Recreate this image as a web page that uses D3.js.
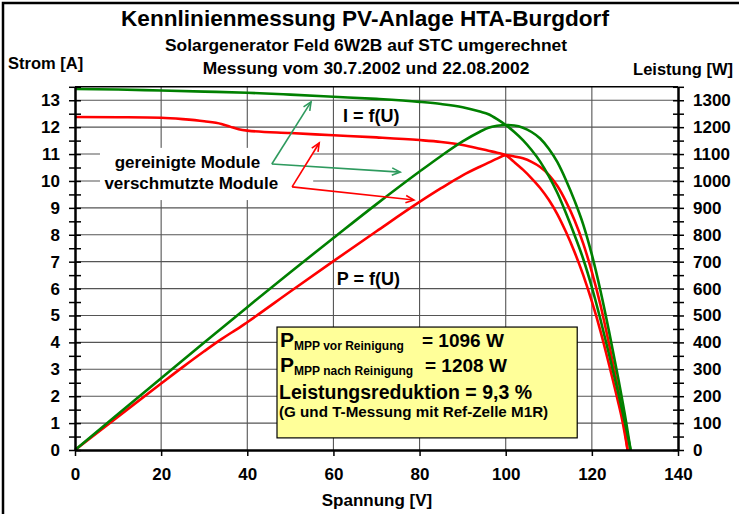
<!DOCTYPE html>
<html><head><meta charset="utf-8">
<script src="https://cdn.jsdelivr.net/npm/d3@7"></script>
<style>
body{margin:0;background:#fff}
svg{display:block}
text{font-family:"Liberation Sans",Arial,sans-serif;font-weight:bold;fill:#000}
</style></head>
<body><svg id="c" width="739" height="514"></svg>
<script>
// ---- data ----
const voltageClean = [0,10,20,30,40,50,60,70,80,85,90,94,96,98,100,102,104,106,108,110,112,114,116,118,120,122,124,126,128,129];
const currentClean = [13.42,13.40,13.36,13.32,13.28,13.21,13.13,13.05,12.94,12.86,12.74,12.58,12.48,12.30,12.08,11.82,11.52,11.15,10.72,10.18,9.55,8.80,7.98,7.10,6.05,4.85,3.55,2.20,0.78,0];
const powerClean = [0,134,267,400,531,661,788,914,1035,1093,1147,1183,1198,1205,1208,1206,1198,1182,1158,1120,1070,1003,926,838,726,592,440,277,100,0];

const voltageDirty = [0,10,20,25,30,34,36,38,40,50,60,70,80,85,90,94,96,98,100,102,104,106,108,110,112,114,116,118,120,122,124,126,127,128.3];
const currentDirty = [12.38,12.37,12.35,12.30,12.22,12.12,12.02,11.92,11.87,11.78,11.70,11.62,11.52,11.45,11.34,11.20,11.125,11.05,10.96,10.70,10.42,10.10,9.74,9.30,8.76,8.10,7.35,6.50,5.52,4.42,3.17,1.85,1.15,0];
const powerDirty = [0,124,247,308,367,412,433,453,475,589,702,813,922,973,1021,1053,1068,1083,1096,1091,1084,1071,1052,1023,981,923,853,767,662,539,393,233,146,0];

const xTickValues = [0,20,40,60,80,100,120,140];
const yLeftTickValues = [0,1,2,3,4,5,6,7,8,9,10,11,12,13];
const yRightTickValues = [0,100,200,300,400,500,600,700,800,900,1000,1100,1200,1300];

const titleText = "Kennlinienmessung PV-Anlage HTA-Burgdorf";
const subtitle1 = "Solargenerator Feld 6W2B auf STC umgerechnet";
const subtitle2 = "Messung vom 30.7.2002 und 22.08.2002";
const leftTitle = "Strom [A]";
const rightTitle = "Leistung [W]";
const xTitle = "Spannung [V]";

const colorClean = "#008000";
const colorDirty = "#ff0000";
const colorCleanArrow = "#2e9a5e";

// ---- layout ----
const svg = d3.select("#c");
const X0 = 75, X1 = 678, Y0 = 450, YT = 86.8;
const x = d3.scaleLinear().domain([0,140]).range([X0,X1]);
const yA = d3.scaleLinear().domain([0,13.5]).range([Y0,YT]);
const yW = d3.scaleLinear().domain([0,1350]).range([Y0,YT]);

svg.append("rect").attr("width",739).attr("height",514).attr("fill","#fff");
// outer frame (left & top visible)
svg.append("path").attr("d","M3,514 V3 H739").attr("fill","none").attr("stroke","#000").attr("stroke-width",2.5);

// gridlines
const grid = svg.append("g").attr("stroke","#555").attr("stroke-width",1.1);
grid.selectAll(".h").data(yLeftTickValues.filter(d=>d>0)).join("line")
  .attr("x1",X0).attr("x2",X1).attr("y1",d=>yA(d)).attr("y2",d=>yA(d));
grid.selectAll(".v").data(xTickValues.filter(d=>d>0&&d<140)).join("line")
  .attr("y1",YT).attr("y2",Y0).attr("x1",d=>x(d)).attr("x2",d=>x(d));
// plot top border
svg.append("line").attr("x1",X0).attr("x2",X1).attr("y1",YT).attr("y2",YT).attr("stroke","#000").attr("stroke-width",1.5);

// white label box
svg.append("rect").attr("x",x(5.8)).attr("y",yA(11.23)).attr("width",x(55.3)-x(5.8)).attr("height",yA(9.29)-yA(11.23)).attr("fill","#fff");
svg.append("text").attr("x",x(26.1)).attr("y",yA(10.5)).attr("text-anchor","middle").attr("font-size",17).text("gereinigte Module");
svg.append("text").attr("x",x(27.0)).attr("y",yA(9.7)).attr("text-anchor","middle").attr("font-size",17).text("verschmutzte Module");

// yellow info box
const bx0 = x(46.9), bx1 = x(116.6), by0 = yA(4.57), by1 = yA(0.45);
svg.append("rect").attr("x",bx0).attr("y",by0).attr("width",bx1-bx0).attr("height",by1-by0)
  .attr("fill","#ffff99").attr("stroke","#000").attr("stroke-width",1.2);
const t1 = svg.append("text").attr("x",bx0+3).attr("y",by0+20);
t1.append("tspan").attr("font-size",21).text("P");
t1.append("tspan").attr("font-size",12).attr("dy",3).text("MPP vor Reinigung");
svg.append("text").attr("x",422).attr("y",by0+20).attr("font-size",19).text("= 1096 W");
const t2 = svg.append("text").attr("x",bx0+3).attr("y",by0+45);
t2.append("tspan").attr("font-size",21).text("P");
t2.append("tspan").attr("font-size",12).attr("dy",3).text("MPP nach Reinigung");
svg.append("text").attr("x",425).attr("y",by0+45).attr("font-size",19).text("= 1208 W");
svg.append("text").attr("x",bx0+2).attr("y",by0+72).attr("font-size",19.5).text("Leistungsreduktion = 9,3 %");
svg.append("text").attr("x",bx0+2).attr("y",by0+90).attr("font-size",15.2).text("(G und T-Messung mit Ref-Zelle M1R)");

// curve labels
svg.append("text").attr("x",x(62.2)).attr("y",yA(12.19)).attr("font-size",18).text("I = f(U)");
svg.append("text").attr("x",x(60.8)).attr("y",yA(6.13)).attr("font-size",18).text("P = f(U)");

// curves
const lineA = (vs,is)=> d3.line().x((d,i)=>x(vs[i])).y((d,i)=>yA(is[i])).curve(d3.curveMonotoneX)(vs);
const lineW = (vs,ps)=> d3.line().x((d,i)=>x(vs[i])).y((d,i)=>yW(ps[i])).curve(d3.curveMonotoneX)(vs);
const curves = [
  [lineW(voltageDirty,powerDirty),colorDirty],
  [lineA(voltageDirty,currentDirty),colorDirty],
  [lineW(voltageClean,powerClean),colorClean],
  [lineA(voltageClean,currentClean),colorClean]
];
svg.append("g").selectAll("path").data(curves).join("path")
  .attr("d",d=>d[0]).attr("stroke",d=>d[1]).attr("fill","none").attr("stroke-width",2.6).attr("stroke-linejoin","round");

// arrows
function arrow(from,to,color){
  const x1=x(from[0]),y1=yA(from[1]),x2=x(to[0]),y2=yA(to[1]);
  svg.append("line").attr("x1",x1).attr("y1",y1).attr("x2",x2).attr("y2",y2).attr("stroke",color).attr("stroke-width",1.6);
  const a=Math.atan2(y2-y1,x2-x1), L=9, w=0.42;
  const p=`M${x2-L*Math.cos(a-w)},${y2-L*Math.sin(a-w)} L${x2},${y2} L${x2-L*Math.cos(a+w)},${y2-L*Math.sin(a+w)}`;
  svg.append("path").attr("d",p).attr("fill","none").attr("stroke",color).attr("stroke-width",1.6);
}
arrow([45.7,10.63],[54.8,12.94],colorCleanArrow);
arrow([45.7,10.63],[75.5,10.33],colorCleanArrow);
arrow([50.4,9.78],[56.7,11.41],colorDirty);
arrow([50.4,9.78],[78.7,9.29],colorDirty);

// axes
function styleAxis(g){ g.selectAll("path").attr("stroke","#000").attr("stroke-width",2); g.selectAll("line").attr("stroke","#000").attr("stroke-width",1.5); g.selectAll("text").attr("font-size",17).attr("font-family","Liberation Sans, Arial, sans-serif").attr("font-weight","bold"); }
const halfA = d3.range(0,13.51,0.5);
const gL = svg.append("g").attr("transform",`translate(${X0},0)`)
  .call(d3.axisLeft(yA).tickValues(halfA).tickSize(6).tickSizeOuter(0).tickPadding(9).tickFormat(d=>Number.isInteger(d)?d:""));
styleAxis(gL);
const gL2 = svg.append("g").attr("transform",`translate(${X0},0)`)
  .call(d3.axisRight(yA).tickValues(halfA).tickSize(6).tickSizeOuter(0).tickFormat(""));
styleAxis(gL2);
const halfW = d3.range(0,1351,50);
const gR = svg.append("g").attr("transform",`translate(${X1},0)`)
  .call(d3.axisRight(yW).tickValues(halfW).tickSize(6).tickSizeOuter(0).tickPadding(9).tickFormat(d=>yRightTickValues.includes(d)?d:""));
styleAxis(gR);
const gR2 = svg.append("g").attr("transform",`translate(${X1},0)`)
  .call(d3.axisLeft(yW).tickValues(halfW).tickSize(5).tickSizeOuter(0).tickFormat(""));
styleAxis(gR2);
const gB = svg.append("g").attr("transform",`translate(0,${Y0})`)
  .call(d3.axisBottom(x).tickValues(xTickValues).tickSize(6).tickSizeOuter(0).tickPadding(12));
styleAxis(gB);
gB.select("path").attr("stroke-width",2.5);

// titles
svg.append("text").attr("x",365).attr("y",26).attr("text-anchor","middle").attr("font-size",22.6).text(titleText);
svg.append("text").attr("x",366).attr("y",51).attr("text-anchor","middle").attr("font-size",17.4).text(subtitle1);
svg.append("text").attr("x",366).attr("y",74).attr("text-anchor","middle").attr("font-size",17.4).text(subtitle2);
svg.append("text").attr("x",8).attr("y",69).attr("font-size",16.5).text(leftTitle);
svg.append("text").attr("x",733).attr("y",75).attr("text-anchor","end").attr("font-size",16.5).text(rightTitle);
svg.append("text").attr("x",377).attr("y",506).attr("text-anchor","middle").attr("font-size",17).text(xTitle);
</script></body></html>
